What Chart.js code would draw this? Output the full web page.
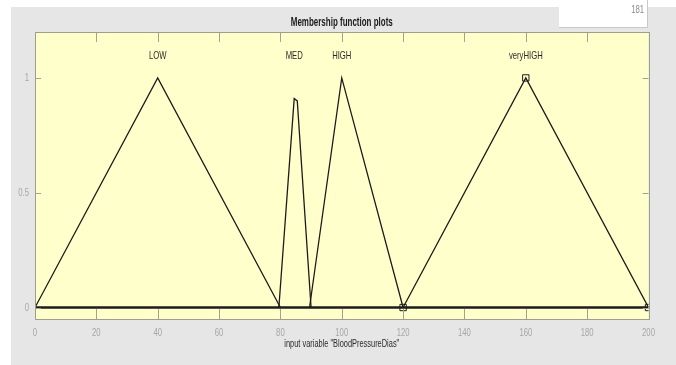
<!DOCTYPE html>
<html>
<head>
<meta charset="utf-8">
<script src="https://cdn.jsdelivr.net/npm/chart.js@4"></script>
<style>
  html, body { margin: 0; padding: 0; background: #ffffff; }
  #wrap { width: 676px; height: 365px; position: relative; }
</style>
</head>
<body>
<div id="wrap"><canvas id="mf" width="676" height="365"></canvas></div>
<script>
// Membership functions of the input variable "BloodPressureDias"
const mfNames = ['LOW', 'MED', 'HIGH', 'veryHIGH'];
const lowX = [0, 40, 80];
const lowY = [0, 1, 0];
const medX = [79.5, 84.5, 85.5, 90];
const medY = [0, 0.91, 0.9, 0];
const highX = [89.5, 100, 120];
const highY = [0, 1, 0];
const veryHighX = [120, 160, 200];
const veryHighY = [0, 1, 0];
const mfPeakX = [40, 84.5, 100, 160];
const xTicks = [0, 20, 40, 60, 80, 100, 120, 140, 160, 180, 200];
const yTicks = [0, 0.5, 1];
const xRange = [0, 200];
const plotTitle = 'Membership function plots';
const xTitle = 'input variable "BloodPressureDias"';

const pts = (xs, ys) => xs.map((x, i) => ({ x: x, y: ys[i] }));
const FONT = '"Liberation Sans", Arial, sans-serif';

// narrow text: regular face squeezed horizontally
function narrowText(ctx, text, x, y, opts) {
  ctx.save();
  ctx.font = (opts.bold ? 'bold ' : '') + opts.size + 'px ' + FONT;
  ctx.fillStyle = opts.color;
  ctx.textAlign = opts.align || 'center';
  ctx.textBaseline = 'middle';
  ctx.translate(x, y);
  ctx.scale(opts.sx || 0.7, 1);
  ctx.fillText(text, 0, 0);
  ctx.restore();
}

const lineStyle = {
  showLine: true,
  borderColor: '#1c1c1c',
  borderWidth: 1.3,
  pointRadius: 0,
  fill: false,
  tension: 0
};

const datasets = [
  Object.assign({ label: mfNames[0], data: pts(lowX, lowY) }, lineStyle),
  Object.assign({ label: mfNames[1], data: pts(medX, medY) }, lineStyle),
  Object.assign({ label: mfNames[2], data: pts(highX, highY) }, lineStyle),
  Object.assign({ label: mfNames[3], data: pts(veryHighX, veryHighY) }, lineStyle, {
    pointStyle: 'rect',
    pointRadius: 4.5,
    pointBorderColor: '#1c1c1c',
    pointBackgroundColor: 'rgba(0,0,0,0)',
    pointBorderWidth: 1
  }),
  Object.assign({ label: 'zero', data: pts(xRange, [0, 0]) }, lineStyle, { borderWidth: 2.4 })
];

// Figure background, axes box, inward tick marks, tick labels and texts
const figurePlugin = {
  id: 'figure',
  beforeDraw(chart) {
    const ctx = chart.ctx;
    const a = chart.chartArea;
    ctx.save();
    ctx.fillStyle = '#ffffff';
    ctx.fillRect(0, 0, chart.width, chart.height);
    ctx.fillStyle = '#e6e6e6';
    ctx.fillRect(11, 7, chart.width - 11, chart.height - 7);
    // small white panel at the top right
    ctx.fillStyle = '#ffffff';
    ctx.fillRect(559, 0, 88, 27);
    ctx.strokeStyle = '#c8c8c8';
    ctx.lineWidth = 1;
    ctx.beginPath();
    ctx.moveTo(559, 27.5); ctx.lineTo(647.5, 27.5); ctx.lineTo(647.5, 0);
    ctx.stroke();
    ctx.restore();
    narrowText(ctx, '181', 644, 10, { size: 11, color: '#8a8a8a', align: 'right' });
    ctx.save();
    // axes background
    ctx.fillStyle = '#ffffcc';
    ctx.fillRect(a.left, a.top, a.right - a.left, a.bottom - a.top);
    ctx.restore();
    // titles
    narrowText(ctx, plotTitle, (a.left + a.right) / 2, 22.5, { size: 12, bold: true, color: '#1a1a1a', sx: 0.665 });
    narrowText(ctx, xTitle, (a.left + a.right) / 2, 344, { size: 11.5, color: '#2a2a2a', sx: 0.645 });
  },
  afterDatasetsDraw(chart) {
    const ctx = chart.ctx;
    const a = chart.chartArea;
    const xs = chart.scales.x, ys = chart.scales.y;
    ctx.save();
    ctx.strokeStyle = '#a3a38f';
    ctx.lineWidth = 1;
    xs.ticks.forEach(t => {
      const px = Math.round(xs.getPixelForValue(t.value)) + 0.5;
      ctx.beginPath();
      ctx.moveTo(px, a.bottom); ctx.lineTo(px, a.bottom - 10);
      ctx.moveTo(px, a.top); ctx.lineTo(px, a.top + 10);
      ctx.stroke();
    });
    ys.ticks.forEach(t => {
      const py = Math.round(ys.getPixelForValue(t.value)) + 0.5;
      ctx.beginPath();
      ctx.moveTo(a.left, py); ctx.lineTo(a.left + 6, py);
      ctx.moveTo(a.right, py); ctx.lineTo(a.right - 6, py);
      ctx.stroke();
    });
    ctx.strokeStyle = '#9e9e8c';
    ctx.strokeRect(Math.round(a.left) + 0.5, Math.round(a.top) + 0.5,
                   Math.round(a.right - a.left), Math.round(a.bottom - a.top));
    ctx.restore();
    // tick labels
    xs.ticks.forEach(t => {
      narrowText(ctx, String(t.value), xs.getPixelForValue(t.value), 333, { size: 11, color: '#a6a6a6' });
    });
    ys.ticks.forEach(t => {
      narrowText(ctx, String(t.value), a.left - 6, ys.getPixelForValue(t.value), { size: 11, color: '#a6a6a6', align: 'right' });
    });
    // membership function names above their peaks
    mfNames.forEach((n, i) => {
      narrowText(ctx, n, xs.getPixelForValue(mfPeakX[i]), ys.getPixelForValue(1.095), { size: 11, color: '#2a2a2a' });
    });
  }
};

new Chart(document.getElementById('mf'), {
  type: 'scatter',
  data: { datasets: datasets },
  options: {
    responsive: false,
    animation: false,
    events: [],
    layout: { padding: { left: 0, right: 27.5, top: 32, bottom: 0 } },
    plugins: {
      legend: { display: false },
      tooltip: { enabled: false },
      title: { display: false }
    },
    scales: {
      x: {
        type: 'linear',
        min: xRange[0],
        max: xRange[1],
        afterBuildTicks: s => { s.ticks = xTicks.map(v => ({ value: v })); },
        afterFit: s => { s.height = 46; },
        grid: { display: false, drawTicks: false },
        border: { display: false },
        ticks: { display: false }
      },
      y: {
        type: 'linear',
        min: -0.05,
        max: 1.2,
        afterBuildTicks: s => { s.ticks = yTicks.map(v => ({ value: v })); },
        afterFit: s => { s.width = 35; },
        grid: { display: false, drawTicks: false },
        border: { display: false },
        ticks: { display: false }
      }
    }
  },
  plugins: [figurePlugin]
});
</script>
</body>
</html>
